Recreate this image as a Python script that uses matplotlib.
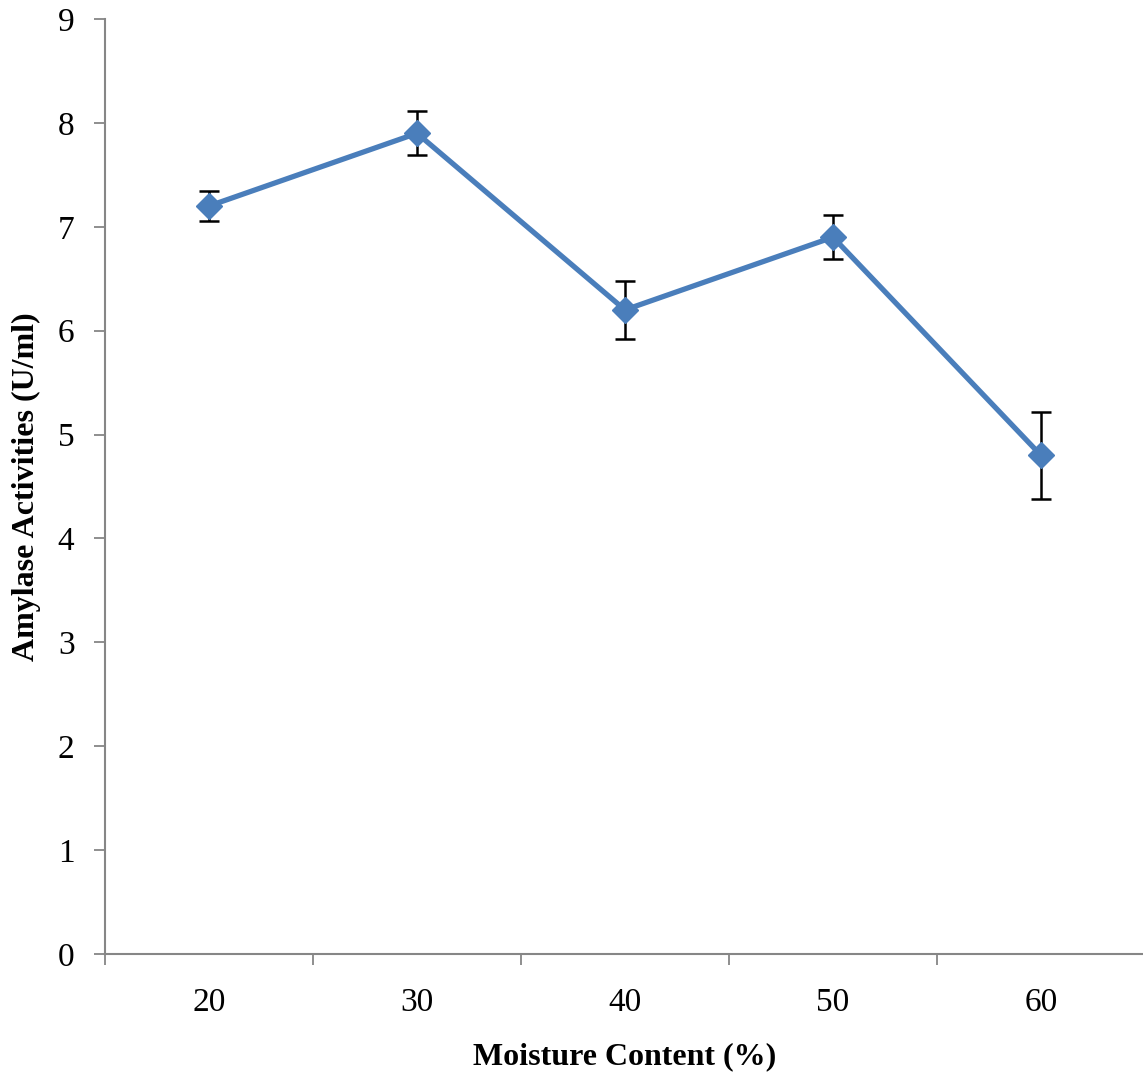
import matplotlib.pyplot as plt
import numpy as np

moisture = ['20', '30', '40', '50', '60']
activity = [7.2, 7.9, 6.2, 6.9, 4.8]
errors = [0.14, 0.21, 0.28, 0.21, 0.42]

plt.rcParams['font.family'] = ['Liberation Serif', 'DejaVu Serif']

fig = plt.figure(figsize=(11.43, 10.78), dpi=100)
ax = fig.add_axes([105 / 1143, 1 - 954 / 1078, 1040 / 1143, 935 / 1078])

x = np.arange(len(moisture))
ax.errorbar(x, activity, yerr=errors, fmt='none', ecolor='black',
            elinewidth=1.8, capsize=7, capthick=1.8, zorder=2)
ax.plot(x, activity, color='#4a7ebb', linewidth=3.8, marker='D',
        markersize=13, zorder=3)

ax.set_xlim(-0.5, len(moisture) - 0.5)
ax.set_ylim(0, 9)
ax.set_yticks(range(0, 10))

# category labels centred, ticks on the boundaries
ax.set_xticks(x)
ax.set_xticklabels(moisture, fontsize=24)
ax.set_xticks(np.arange(-0.5, len(moisture)), minor=True)
ax.tick_params(axis='x', which='major', length=0, pad=24)
ax.tick_params(axis='x', which='minor', length=8, width=1.3,
               color='#868686', direction='out')
ax.tick_params(axis='y', length=8, width=1.3, color='#868686',
               direction='out', labelsize=24, pad=14)

for side in ['top', 'right']:
    ax.spines[side].set_visible(False)
for side in ['left', 'bottom']:
    ax.spines[side].set_color('#868686')
    ax.spines[side].set_linewidth(1.5)

ax.set_xlabel('Moisture Content (%)', fontsize=23, fontweight='bold')
ax.xaxis.set_label_coords(0.5, -88 / 935)
ax.set_ylabel('Amylase Activities (U/ml)', fontsize=23, fontweight='bold')
ax.yaxis.set_label_coords(-64 / 1040, 0.5)

fig.savefig('out.png', dpi=100)
